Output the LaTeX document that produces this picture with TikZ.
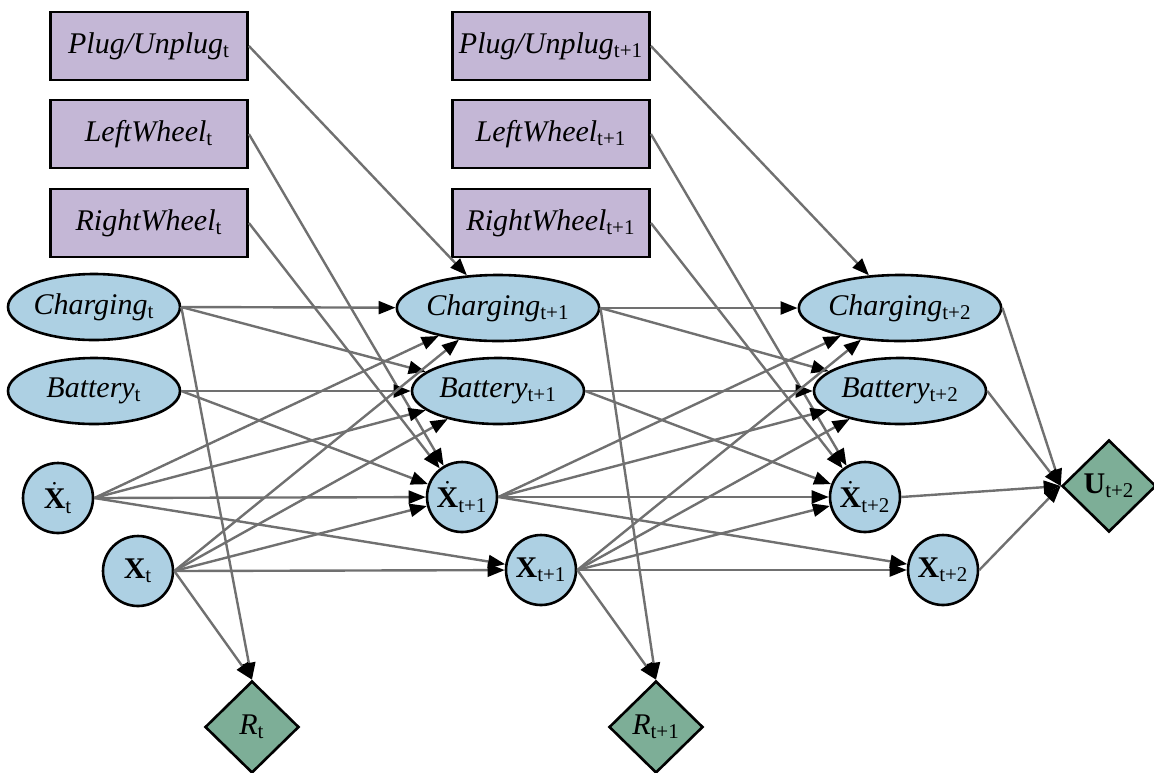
\documentclass[tikz,border=0pt]{standalone}
\usepackage{fontspec}
\setmainfont{Liberation Serif}
\usepackage{tikz}
\usetikzlibrary{arrows.meta,shapes.geometric}
\definecolor{statefill}{HTML}{ADD0E3}
\definecolor{actfill}{HTML}{C4B7D6}
\definecolor{rewfill}{HTML}{7DAE97}
\definecolor{linkgray}{HTML}{707070}

\tikzset{
  state/.style={ellipse,draw=black,line width=1.3pt,fill=statefill,minimum width=86pt,minimum height=33pt,inner sep=0pt},
  posnode/.style={circle,draw=black,line width=1.3pt,fill=statefill,minimum size=35pt,inner sep=0pt},
  act/.style={rectangle,draw=black,line width=1.4pt,fill=actfill,minimum width=98.5pt,minimum height=34pt,inner sep=0pt},
  reward/.style={diamond,draw=black,line width=1.3pt,fill=rewfill,minimum width=47pt,minimum height=46pt,inner sep=0pt},
  link/.style={draw=linkgray,line width=1.2pt,-{Triangle[color=black,length=8.5pt,width=6.5pt]}}
}
\newcommand{\xdot}{$\dot{\mbox{\bfseries X}}$}

\begin{document}
\begin{tikzpicture}[x=0.5pt,y=-0.5pt,font=\fontsize{15}{18}\selectfont]
  \useasboundingbox (0,0) rectangle (1154,772);
  % actions
  \node[act] (plug0) at (149,46) {\textit{Plug/Unplug}\textsubscript{t}};
  \node[act] (left0) at (149,134) {\textit{LeftWheel}\textsubscript{t}};
  \node[act] (right0) at (149,223) {\textit{RightWheel}\textsubscript{t}};
  \node[act] (plug1) at (551,46) {\textit{Plug/Unplug}\textsubscript{t+1}};
  \node[act] (left1) at (551,134) {\textit{LeftWheel}\textsubscript{t+1}};
  \node[act] (right1) at (551,223) {\textit{RightWheel}\textsubscript{t+1}};
  % states
  \node[state] (chg0) at (94,307) {\textit{Charging}\textsubscript{t}};
  \node[state] (bat0) at (94,391) {\textit{Battery}\textsubscript{t}};
  \node[posnode] (vel0) at (58,498) {\xdot\textsubscript{t}};
  \node[posnode] (pos0) at (138,571) {\textbf{X}\textsubscript{t}};
  \node[state] (chg1) at (498,308) {\textit{Charging}\textsubscript{t+1}};
  \node[state] (bat1) at (498,391) {\textit{Battery}\textsubscript{t+1}};
  \node[posnode] (vel1) at (462,497) {\xdot\textsubscript{t+1}};
  \node[posnode] (pos1) at (541,570) {\textbf{X}\textsubscript{t+1}};
  \node[state] (chg2) at (900,308) {\textit{Charging}\textsubscript{t+2}};
  \node[state] (bat2) at (900,391) {\textit{Battery}\textsubscript{t+2}};
  \node[posnode] (vel2) at (865,497) {\xdot\textsubscript{t+2}};
  \node[posnode] (pos2) at (943,570) {\textbf{X}\textsubscript{t+2}};
  % rewards and utility
  \node[reward] (rew0) at (252,727) {\textit{R}\textsubscript{t}};
  \node[reward] (rew1) at (656,727) {\textit{R}\textsubscript{t+1}};
  \node[reward] (util) at (1109,486) {\textbf{U}\textsubscript{t+2}};

  % slice t -> t+1
  \draw[link] (plug0.east) -- (chg1);
  \draw[link] (left0.east) -- (vel1);
  \draw[link] (right0.east) -- (vel1);
  \draw[link] (chg0.east) -- (chg1);
  \draw[link] (chg0.east) -- (bat1);
  \draw[link] (chg0.east) -- (rew0.north);
  \draw[link] (bat0.east) -- (bat1);
  \draw[link] (bat0.east) -- (vel1);
  \draw[link] (vel0.east) -- (chg1);
  \draw[link] (vel0.east) -- (bat1);
  \draw[link] (vel0.east) -- (vel1);
  \draw[link] (vel0.east) -- (pos1);
  \draw[link] (pos0.east) -- (chg1);
  \draw[link] (pos0.east) -- (bat1);
  \draw[link] (pos0.east) -- (vel1);
  \draw[link] (pos0.east) -- (pos1);
  \draw[link] (pos0.east) -- (rew0.north);
  % slice t+1 -> t+2
  \draw[link] (plug1.east) -- (chg2);
  \draw[link] (left1.east) -- (vel2);
  \draw[link] (right1.east) -- (vel2);
  \draw[link] (chg1.east) -- (chg2);
  \draw[link] (chg1.east) -- (bat2);
  \draw[link] (chg1.east) -- (rew1.north);
  \draw[link] (bat1.east) -- (bat2);
  \draw[link] (bat1.east) -- (vel2);
  \draw[link] (vel1.east) -- (chg2);
  \draw[link] (vel1.east) -- (bat2);
  \draw[link] (vel1.east) -- (vel2);
  \draw[link] (vel1.east) -- (pos2);
  \draw[link] (pos1.east) -- (chg2);
  \draw[link] (pos1.east) -- (bat2);
  \draw[link] (pos1.east) -- (vel2);
  \draw[link] (pos1.east) -- (pos2);
  \draw[link] (pos1.east) -- (rew1.north);
  % utility
  \draw[link] (chg2.east) -- (util.west);
  \draw[link] (bat2.east) -- (util.west);
  \draw[link] (vel2.east) -- (util.west);
  \draw[link] (pos2.east) -- (util.west);
\end{tikzpicture}
\end{document}
